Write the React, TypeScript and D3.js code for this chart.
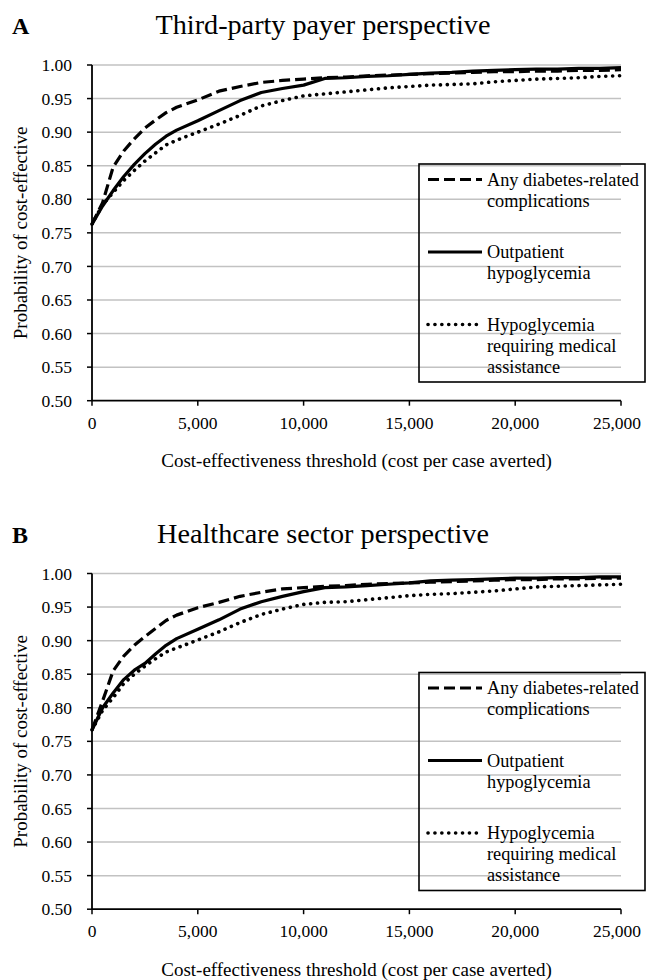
import React from "react";
import * as d3 from "d3";

const thresholds = [0, 500, 1000, 1500, 2000, 2500, 3000, 3500, 4000, 5000, 6000, 7000, 8000, 9000, 10000, 11000, 12000, 13000, 14000, 15000, 16000, 17000, 18000, 19000, 20000, 21000, 22000, 23000, 24000, 25000];

const aAnyComplications = [0.763, 0.795, 0.848, 0.872, 0.890, 0.906, 0.918, 0.929, 0.937, 0.948, 0.961, 0.968, 0.974, 0.977, 0.979, 0.981, 0.982, 0.984, 0.985, 0.986, 0.987, 0.988, 0.989, 0.990, 0.990, 0.991, 0.991, 0.992, 0.992, 0.993];
const aOutpatient = [0.763, 0.790, 0.813, 0.834, 0.852, 0.868, 0.882, 0.894, 0.903, 0.917, 0.932, 0.947, 0.959, 0.965, 0.970, 0.980, 0.981, 0.983, 0.984, 0.986, 0.988, 0.989, 0.991, 0.992, 0.993, 0.994, 0.994, 0.995, 0.995, 0.996];
const aMedical = [0.763, 0.792, 0.810, 0.828, 0.843, 0.857, 0.869, 0.881, 0.888, 0.900, 0.912, 0.925, 0.939, 0.947, 0.954, 0.957, 0.960, 0.963, 0.966, 0.968, 0.970, 0.971, 0.972, 0.975, 0.977, 0.979, 0.980, 0.981, 0.983, 0.984];

const bAnyComplications = [0.767, 0.810, 0.855, 0.877, 0.893, 0.906, 0.918, 0.930, 0.938, 0.949, 0.957, 0.966, 0.972, 0.977, 0.979, 0.981, 0.982, 0.984, 0.985, 0.986, 0.987, 0.988, 0.989, 0.990, 0.991, 0.991, 0.992, 0.992, 0.993, 0.993];
const bOutpatient = [0.767, 0.800, 0.822, 0.842, 0.856, 0.866, 0.880, 0.893, 0.903, 0.917, 0.931, 0.947, 0.958, 0.966, 0.973, 0.979, 0.980, 0.982, 0.984, 0.986, 0.989, 0.990, 0.991, 0.992, 0.993, 0.993, 0.994, 0.994, 0.995, 0.995];
const bMedical = [0.767, 0.796, 0.815, 0.836, 0.850, 0.862, 0.873, 0.883, 0.889, 0.901, 0.913, 0.927, 0.939, 0.947, 0.954, 0.957, 0.958, 0.961, 0.964, 0.967, 0.969, 0.970, 0.972, 0.974, 0.977, 0.980, 0.981, 0.982, 0.983, 0.984];

const yTicks = [0.5, 0.55, 0.6, 0.65, 0.7, 0.75, 0.8, 0.85, 0.9, 0.95, 1.0];
const xTicks = [0, 5000, 10000, 15000, 20000, 25000];

const panelLetters = ["A", "B"];
const panelTitles = ["Third-party payer perspective", "Healthcare sector perspective"];
const legendLabels = [
  ["Any diabetes-related", "complications"],
  ["Outpatient", "hypoglycemia"],
  ["Hypoglycemia", "requiring medical", "assistance"],
];
const xTitle = "Cost-effectiveness threshold (cost per case averted)";
const yTitle = "Probability of cost-effective";

const FONT = "'Liberation Serif', 'Times New Roman', serif";
const dashStyles = ["11,5", "", "0.1,6.8"];
const capStyles = ["butt", "butt", "round"];

const W = 646;
const H = 980;
const left = 92;
const right = 621;
const top0 = 65;
const bottom0 = 400.7;
const panelOffset = 508.5;

function Panel({ idx, series }: { idx: number; series: number[][] }) {
  const oy = idx * panelOffset;
  const x = d3.scaleLinear().domain([0, 25000]).range([left, right]);
  const y = d3.scaleLinear().domain([0.5, 1.0]).range([bottom0 + oy, top0 + oy]);
  const line = d3
    .line<number>()
    .x((_, i) => x(thresholds[i]))
    .y((d) => y(d));
  const fmt = d3.format(",");
  const legTop = 164 + oy;
  const legBottom = 382 + oy;
  const legLeft = 419;
  const legRight = 645;
  const entryY = [179.5, 252, 324.5];
  return (
    <g>
      <text x={12} y={34 + oy} fontFamily={FONT} fontWeight="bold" fontSize={24}>
        {panelLetters[idx]}
      </text>
      <text x={323} y={34 + oy} fontFamily={FONT} fontSize={28.2} textAnchor="middle">
        {panelTitles[idx]}
      </text>
      {yTicks.map((t) => (
        <g key={t}>
          {t > 0.5 && (
            <line x1={left} x2={right} y1={y(t)} y2={y(t)} stroke="#c2c2c2" strokeWidth={1.5} />
          )}
          <line x1={left - 5} x2={left} y1={y(t)} y2={y(t)} stroke="#000" strokeWidth={1.5} />
          <text x={72} y={y(t)} dy="0.35em" fontFamily={FONT} fontSize={17.5} textAnchor="end">
            {t.toFixed(2)}
          </text>
        </g>
      ))}
      <line x1={left} x2={left} y1={y(1.0)} y2={y(0.5)} stroke="#000" strokeWidth={1.8} />
      <line x1={left} x2={right} y1={y(0.5)} y2={y(0.5)} stroke="#000" strokeWidth={1.8} />
      {xTicks.map((t) => (
        <g key={t}>
          <line x1={x(t)} x2={x(t)} y1={y(0.5)} y2={y(0.5) + 5} stroke="#000" strokeWidth={1.5} />
          <text x={Math.min(x(t), 617)} y={y(0.5) + 28} fontFamily={FONT} fontSize={17.5} textAnchor="middle">
            {fmt(t)}
          </text>
        </g>
      ))}
      <text x={356.5} y={467 + oy} fontFamily={FONT} fontSize={19} textAnchor="middle">
        {xTitle}
      </text>
      <text
        transform={`translate(27,${(y(0.5) + y(1.0)) / 2}) rotate(-90)`}
        fontFamily={FONT}
        fontSize={19}
        textAnchor="middle"
      >
        {yTitle}
      </text>
      {series.map((s, i) => (
        <path
          key={i}
          d={line(s) || ""}
          fill="none"
          stroke="#000"
          strokeWidth={i === 2 ? 3.6 : 3.2}
          strokeDasharray={dashStyles[i] || undefined}
          strokeLinecap={capStyles[i] as any}
          strokeLinejoin="round"
        />
      ))}
      <rect x={legLeft} y={legTop} width={legRight - legLeft} height={legBottom - legTop} fill="none" stroke="#000" strokeWidth={1.6} />
      {legendLabels.map((lines, i) => (
        <g key={i}>
          <line
            x1={428}
            x2={482}
            y1={entryY[i] + oy}
            y2={entryY[i] + oy}
            stroke="#000"
            strokeWidth={i === 2 ? 3.6 : 3.2}
            strokeDasharray={dashStyles[i] || undefined}
            strokeLinecap={capStyles[i] as any}
          />
          {lines.map((l, j) => (
            <text key={j} x={487} y={entryY[i] + oy + j * 21} dy="0.33em" fontFamily={FONT} fontSize={18.3}>
              {l}
            </text>
          ))}
        </g>
      ))}
    </g>
  );
}

export default function App() {
  return (
    <svg width={W} height={H} style={{ position: "absolute", left: 0, top: 0, background: "#fff" }}>
      <rect width={W} height={H} fill="#fff" />
      <Panel idx={0} series={[aAnyComplications, aOutpatient, aMedical]} />
      <Panel idx={1} series={[bAnyComplications, bOutpatient, bMedical]} />
    </svg>
  );
}
